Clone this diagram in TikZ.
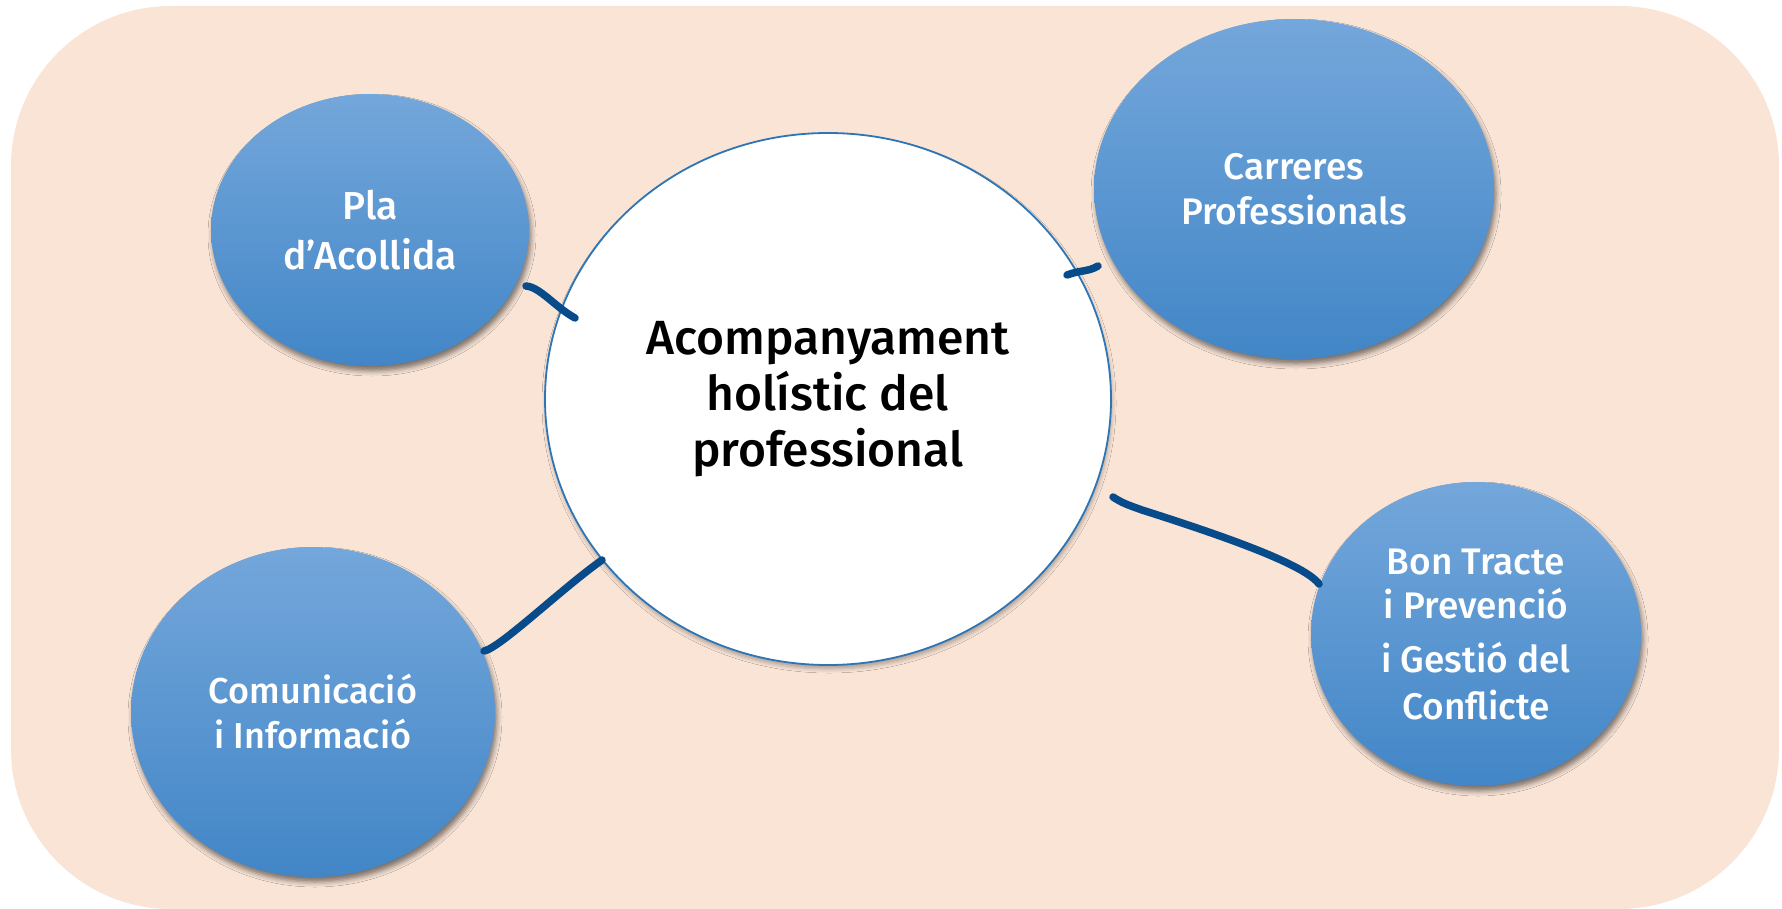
\documentclass[tikz,border=0pt]{standalone}
\usepackage{fontspec}
\setmainfont{Fira Sans}[UprightFont=* Medium]
\usetikzlibrary{shapes.geometric,shadows.blur}
\definecolor{bgpeach}{HTML}{F9E4D6}
\definecolor{ballTop}{HTML}{74A7DB}
\definecolor{ballBot}{HTML}{4286C7}
\definecolor{rimblue}{HTML}{2E75B6}
\definecolor{linkblue}{HTML}{074B8A}
\begin{document}
\begin{tikzpicture}[x=1pt,y=-1pt,
  ball/.style={ellipse, inner sep=0pt, top color=ballTop, bottom color=ballBot, draw=none, text=white, align=center,
    blur shadow={shadow xshift=2pt,shadow yshift=-5pt,shadow blur radius=5pt,shadow opacity=50}},
  hub/.style={ellipse, inner sep=0pt, fill=white, draw=rimblue, line width=1.8pt, align=center,
    blur shadow={shadow xshift=1pt,shadow yshift=-4pt,shadow blur radius=4pt,shadow opacity=30}},
  link/.style={draw=linkblue, line width=7.5pt, line cap=round, line join=round}]
\fill[white] (0,0) rectangle (1782,909);
\fill[bgpeach, rounded corners=160pt] (11,6) rectangle (1779,909);
\useasboundingbox (0,0) rectangle (1782,909);

\node[hub, minimum width=566pt, minimum height=532pt, font=\fontsize{48}{56}\selectfont] (hub) at (828,399) {Acompanyament\\holístic del\\professional};
\node[ball, minimum width=318pt, minimum height=272pt, font=\fontsize{39}{50}\selectfont] (pla) at (370,230) {Pla\\d’Acollida};
\node[ball, minimum width=400pt, minimum height=340pt, font=\fontsize{37}{45}\selectfont] (car) at (1294,189) {Carreres\\Professionals};
\node[ball, minimum width=364pt, minimum height=330pt, font=\fontsize{36}{45}\selectfont] (com) at (313,712) {Comunicació\\i Informació};
\node[ball, minimum width=330pt, minimum height=304pt, font=\fontsize{37}{44}\selectfont] (bon) at (1476,634) {Bon Tracte\\i Prevenció\\[10pt]i Gestió del\\[3pt]Conflicte};

\coordinate (plaA) at (526,286);
\coordinate (plaB) at (575,318);
\coordinate (carA) at (1067,275);
\coordinate (carB) at (1098,266);
\coordinate (comA) at (484,651);
\coordinate (comB) at (602,560);
\coordinate (bonA) at (1113,497);
\coordinate (bonM) at (1142,510);
\coordinate (bonB) at (1319,584);

\draw[link] (plaA) .. controls (540,287) and (555,307) .. (plaB);
\draw[link] (carA) .. controls (1080,270) and (1088,272) .. (carB);
\draw[link] (comA) .. controls (500,648) and (560,590) .. (comB);
\draw[link] (bonA) .. controls (1122,503) and (1128,505) .. (bonM) .. controls (1230,538) and (1305,565) .. (bonB);
\end{tikzpicture}
\end{document}
